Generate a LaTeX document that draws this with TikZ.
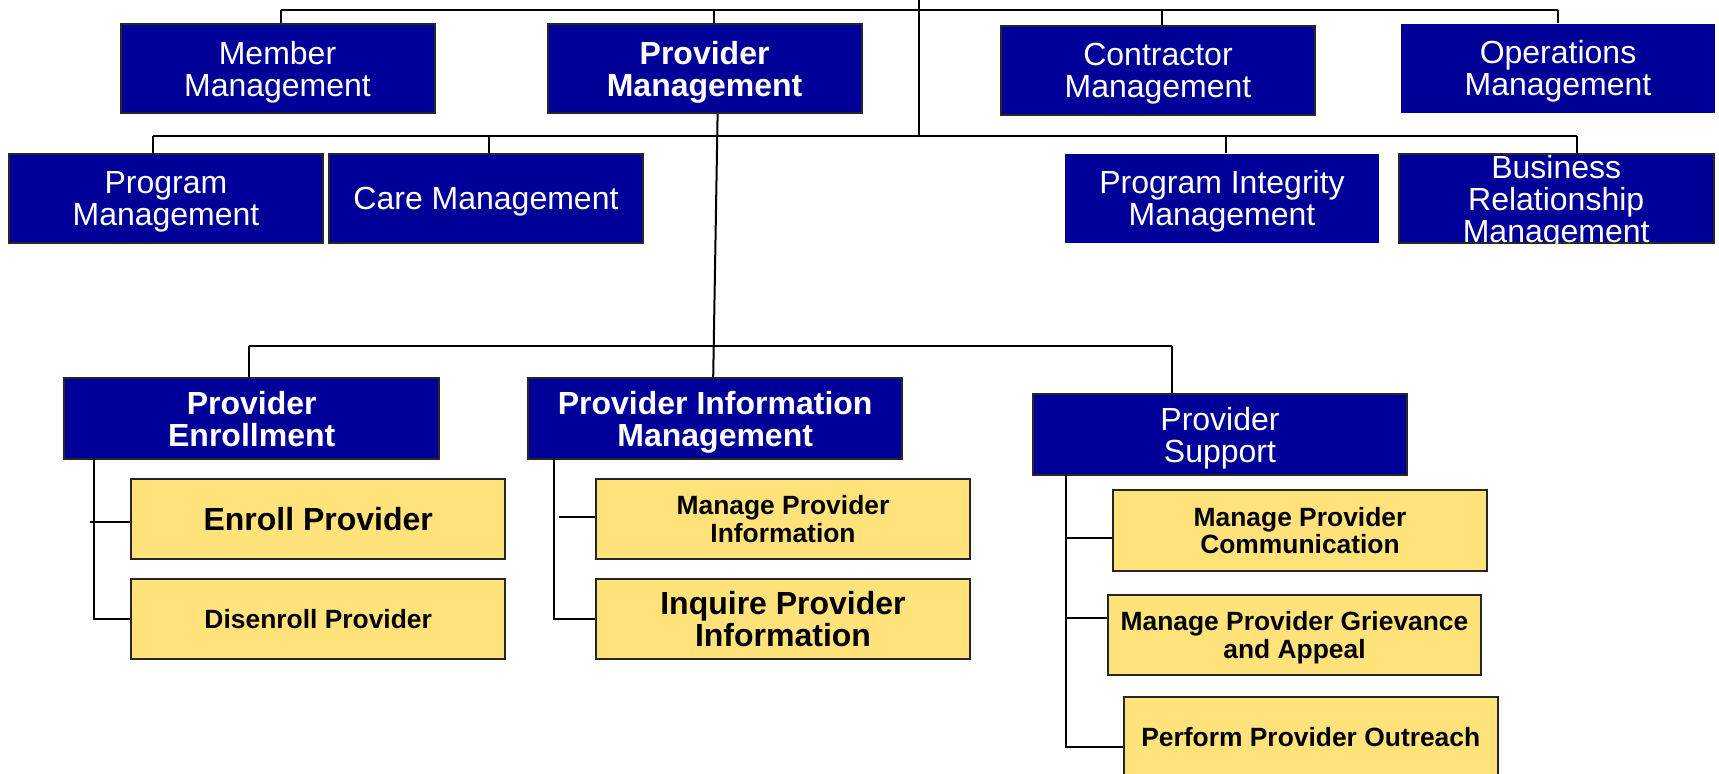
\documentclass[tikz,border=0pt]{standalone}
\usepackage{fontspec}
\setmainfont{Liberation Sans}
\definecolor{navy}{RGB}{0,0,153}
\definecolor{leafy}{RGB}{255,226,122}
\begin{document}
\begin{tikzpicture}[x=0.5pt,y=-0.5pt,
  bx/.style 2 args={rectangle, inner sep=0pt, minimum width=#1*0.5pt, minimum height=#2*0.5pt, align=center, text depth=0pt},
  mgr/.style={fill=navy, draw=black!85, line width=1pt, text=white, font=\fontsize{16}{16}\selectfont},
  mgrb/.style={mgr, font=\fontsize{16}{16}\selectfont\bfseries},
  noline/.style={draw=none},
  leaf/.style={fill=leafy, draw=black!85, line width=1pt, text=black, font=\fontsize{13.2}{13.7}\selectfont\bfseries},
  leafbig/.style={leaf, font=\fontsize{16}{16}\selectfont\bfseries},
  conn/.style={draw=black, line width=1pt}]
\useasboundingbox (0,0) rectangle (1719,774);
\clip (0,0) rectangle (1719,774);

% top row
\node[bx={314}{89}, mgr]  (mem) at (277.5,68.7) {Member\\Management};
\node[bx={314}{89}, mgrb] (pm)  at (704.6,68.7) {Provider\\Management};
\node[bx={314}{89}, mgr]  (con) at (1158,70.3) {Contractor\\Management};
\node[bx={314}{89}, mgr, noline] (ops) at (1558,68.3) {Operations\\Management};

% second row
\node[bx={313.5}{88.7}, mgr] (prog) at (166,198.3) {Program\\Management};
\node[bx={314}{88.7}, mgr]   (care) at (486,198.3) {Care Management};
\node[bx={314}{88.7}, mgr, noline] (pi) at (1222,198.3) {Program Integrity\\Management};
\node[bx={314.8}{88.7}, mgr] (brm) at (1556.2,198.5) {Business\\Relationship\\Management};

% third level
\node[bx={374.6}{81}, mgrb] (pe)  at (251.7,418.5) {Provider\\Enrollment};
\node[bx={374.5}{81}, mgrb] (pim) at (715.2,418.5) {Provider Information\\Management};
\node[bx={374}{81}, mgr]    (ps)  at (1220,434.5) {Provider\\Support};

% leaves
\node[bx={373.6}{80}, leafbig] (ep)  at (318.2,519) {Enroll Provider};
\node[bx={373.6}{80}, leaf]    (dp)  at (318.2,618.8) {Disenroll Provider};
\node[bx={374}{80}, leaf]      (mpi) at (783,519) {Manage Provider\\Information};
\node[bx={374}{80}, leafbig]   (ipi) at (783,619) {Inquire Provider\\Information};
\node[bx={374}{81}, leaf]      (mpc) at (1300,530.5) {Manage Provider\\Communication};
\node[bx={373}{80}, leaf]      (mpg) at (1294.5,635) {Manage Provider Grievance\\and Appeal};
\node[bx={373.5}{80}, leaf]    (ppo) at (1310.8,737) {Perform Provider Outreach};

% trunk and top bus
\coordinate (trT) at (919,0);
\coordinate (trB) at (919,136);
\draw[conn] (trT) -- (trB);
\coordinate (t1) at (281.3,10);
\coordinate (t2) at (713.5,10);
\coordinate (t3) at (1161.5,10);
\coordinate (t4) at (1558.4,10);
\draw[conn] (t1) -- (t4);
\draw[conn] (t1) -- (t1 |- mem.north);
\draw[conn] (t2) -- (t2 |- pm.north);
\draw[conn] (t3) -- (t3 |- con.north);
\draw[conn] (t4) -- (t4 |- ops.north);

% second bus
\coordinate (s1) at (153.3,136);
\coordinate (s2) at (489,136);
\coordinate (s3) at (1226,136);
\coordinate (s4) at (1577,136);
\draw[conn] (s1) -- (s4);
\draw[conn] (s1) -- (s1 |- prog.north);
\draw[conn] (s2) -- (s2 |- care.north);
\draw[conn] (s3) -- (s3 |- pi.north);
\draw[conn] (s4) -- (s4 |- brm.north);

% provider management down
\draw[conn] ([xshift=6.5pt]pm.south) -- ([xshift=-1pt]pim.north);

% third bus
\coordinate (u1) at (249,346);
\coordinate (u2) at (1172,346);
\draw[conn] (u1) -- (u2);
\draw[conn] (u1) -- (u1 |- pe.north);
\draw[conn] (u2) -- (u2 |- ps.north);

% enrollment spine
\coordinate (e0) at (94.4,459);
\draw[conn] (e0) -- (e0 |- dp.west) -- (dp.west);
\coordinate (e1) at (90,522);
\draw[conn] (e1) -- (e1 -| ep.west);

% information spine
\coordinate (i0) at (553.6,459);
\draw[conn] (i0) -- (i0 |- ipi.west) -- (ipi.west);
\coordinate (i1) at (559,517);
\draw[conn] (i1) -- (i1 -| mpi.west);

% support spine
\coordinate (p0) at (1065.6,475);
\coordinate (p3) at (1065.6,747);
\draw[conn] (p0) -- (p3) -- (p3 -| ppo.west);
\coordinate (p1) at (1065.6,538);
\coordinate (p2) at (1065.6,618);
\draw[conn] (p1) -- (p1 -| mpc.west);
\draw[conn] (p2) -- (p2 -| mpg.west);
\end{tikzpicture}
\end{document}
